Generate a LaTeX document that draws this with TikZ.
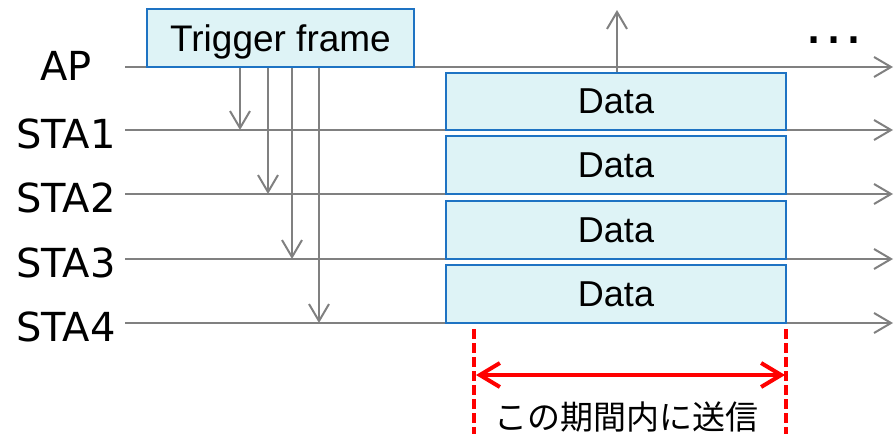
\documentclass[tikz,border=0pt]{standalone}
\usepackage{fontspec}
\setmainfont{Liberation Sans}
\newfontfamily\lblfont{DejaVu Sans}
\newfontfamily\jpfont{Noto Sans CJK JP}
\usetikzlibrary{arrows.meta}
\definecolor{lg}{RGB}{128,128,128}
\definecolor{bfill}{RGB}{222,243,246}
\definecolor{bdraw}{RGB}{30,115,195}
\definecolor{rd}{RGB}{255,0,0}
\tikzset{
 gline/.style={draw=lg, line width=2pt},
 garrow/.style={gline, -{Straight Barb[length=17pt,width=20pt]}},
 framebox/.style={draw=bdraw, fill=bfill, line width=2pt, inner sep=0pt, font=\fontsize{36}{36}\selectfont},
 lbl/.style={anchor=base, inner sep=0pt, font=\lblfont\fontsize{40}{40}\selectfont},
 rdash/.style={draw=rd, line width=3.5pt, dash pattern=on 10pt off 4pt},
 rarrow/.style={draw=rd, line width=4pt, {Straight Barb[length=20pt,width=24pt]}-{Straight Barb[length=20pt,width=24pt]}},
}
\begin{document}
\begin{tikzpicture}[x=1pt,y=-1pt]
\useasboundingbox (0,0) rectangle (894,434);
% time lines
\foreach \n/\y in {ap/67, s1/130, s2/194, s3/259, s4/323} {
  \coordinate (\n-start) at (125,\y);
  \coordinate (\n-end) at (893,\y);
}
\foreach \n in {ap,s1,s2,s3,s4} {
  \draw[garrow] (\n-start) -- (\n-end);
}
% labels
\node[lbl] (lap) at (66,80) {AP};
\node[lbl] (l1) at (66,148) {STA1};
\node[lbl] (l2) at (66,212) {STA2};
\node[lbl] (l3) at (66,277) {STA3};
\node[lbl] (l4) at (66,341) {STA4};
% trigger frame
\node[framebox, font=\fontsize{37}{37}\selectfont, minimum width=267pt, minimum height=58pt, text height=27pt, text depth=0pt] (tf) at (280.5,38) {Trigger frame};
% data boxes
\node[framebox, minimum width=340pt, minimum height=57pt] (d1) at (616,101.5) {Data};
\node[framebox, minimum width=340pt, minimum height=58pt] (d2) at (616,165) {Data};
\node[framebox, minimum width=340pt, minimum height=58pt] (d3) at (616,230) {Data};
\node[framebox, minimum width=340pt, minimum height=58pt] (d4) at (616,294) {Data};
% trigger arrows
\coordinate (t1) at (240,68); \coordinate (e1) at (240,130);
\coordinate (t2) at (268,68); \coordinate (e2) at (268,194);
\coordinate (t3) at (292,68); \coordinate (e3) at (292,259);
\coordinate (t4) at (319,68); \coordinate (e4) at (319,323);
\foreach \i in {1,2,3,4} { \draw[garrow] (t\i) -- (e\i); }
% up arrow
\coordinate (u0) at (617,72);
\coordinate (u1) at (617,10);
\draw[garrow] (u0) -- (u1);
% dots
\node[anchor=base, inner sep=0pt, text height=8pt, text depth=0pt, font=\fontsize{63}{63}\selectfont] (dots) at (834,43) {…};
% red marks
\coordinate (r1a) at (474,329); \coordinate (r1b) at (474,434);
\coordinate (r2a) at (786,329); \coordinate (r2b) at (786,434);
\draw[rdash] (r1a) -- (r1b);
\draw[rdash] (r2a) -- (r2b);
\coordinate (ra) at (476,375); \coordinate (rb) at (785,375);
\draw[rarrow] (ra) -- (rb);
\node[anchor=base, inner sep=0pt, font=\jpfont\fontsize{33}{33}\selectfont] (jp) at (626,429) {この期間内に送信};
\end{tikzpicture}
\end{document}
